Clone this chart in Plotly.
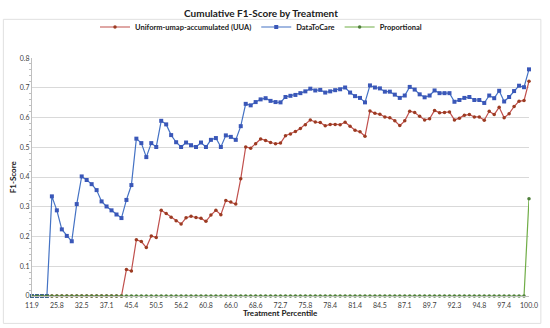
import plotly.graph_objects as go

tick_labels = ["11.9", "25.8", "32.5", "37.1", "45.4", "50.5", "56.2", "60.8", "66.0", "68.6",
               "72.7", "75.8", "78.4", "81.4", "84.5", "87.1", "89.7", "92.3", "94.8", "97.4", "100.0"]

uua = [0] * 19 + [
    0.089, 0.084, 0.189, 0.183, 0.163, 0.202, 0.197, 0.288, 0.277, 0.265, 0.253,
    0.242, 0.263, 0.268, 0.264, 0.261, 0.251, 0.272, 0.288, 0.273, 0.321,
    0.316, 0.309, 0.394, 0.501, 0.497, 0.512, 0.528, 0.523, 0.516, 0.512,
    0.514, 0.539, 0.545, 0.553, 0.563, 0.576, 0.592, 0.585, 0.583, 0.572,
    0.577, 0.577, 0.576, 0.584, 0.571, 0.557, 0.552, 0.537, 0.622, 0.614,
    0.611, 0.602, 0.599, 0.589, 0.573, 0.589, 0.621, 0.617, 0.604, 0.592,
    0.596, 0.624, 0.616, 0.617, 0.619, 0.592, 0.598, 0.608, 0.610, 0.602,
    0.602, 0.591, 0.621, 0.610, 0.635, 0.599, 0.613, 0.637, 0.655, 0.657,
    0.722]

datatocare = [0, 0, 0, 0,
    0.335, 0.288, 0.224, 0.202, 0.184, 0.309,
    0.402, 0.390, 0.376, 0.356, 0.318, 0.301, 0.288, 0.274, 0.262, 0.323,
    0.373, 0.529, 0.514, 0.467, 0.514, 0.501, 0.589, 0.577, 0.541, 0.517,
    0.501, 0.516, 0.507, 0.501, 0.516, 0.501, 0.525, 0.531, 0.501, 0.540,
    0.535, 0.525, 0.571, 0.646, 0.641, 0.652, 0.661, 0.665, 0.656, 0.652,
    0.651, 0.669, 0.673, 0.676, 0.682, 0.688, 0.697, 0.691, 0.693, 0.684,
    0.688, 0.692, 0.695, 0.701, 0.684, 0.672, 0.666, 0.651, 0.708, 0.701,
    0.698, 0.687, 0.687, 0.677, 0.666, 0.674, 0.703, 0.694, 0.678, 0.668,
    0.674, 0.691, 0.682, 0.682, 0.682, 0.653, 0.659, 0.666, 0.669, 0.659,
    0.659, 0.649, 0.674, 0.665, 0.690, 0.654, 0.669, 0.689, 0.707, 0.702,
    0.762]

proportional = [0] * 100 + [0.327]

x = list(range(len(uua)))
tick_pos = list(range(0, len(uua), 5))

FONT = "Lato"

fig = go.Figure()
fig.add_trace(go.Scatter(
    x=x, y=uua, name="<b>Uniform-umap-accumulated (UUA)</b>", mode="lines+markers",
    line=dict(color="#C0504D", width=1.2),
    marker=dict(color="#9C3B22", size=3.5, symbol="circle"),
    cliponaxis=False))
fig.add_trace(go.Scatter(
    x=x, y=datatocare, name="<b>DataToCare</b>", mode="lines+markers",
    line=dict(color="#4472C4", width=1.2),
    marker=dict(color="#3A57B8", size=4, symbol="square"),
    cliponaxis=False))
fig.add_trace(go.Scatter(
    x=x, y=proportional, name="<b>Proportional</b>", mode="lines+markers",
    line=dict(color="#70AD47", width=1.2),
    marker=dict(color="#4E7F3A", size=3.5, symbol="circle"),
    cliponaxis=False))

fig.update_layout(
    width=550, height=328,
    margin=dict(l=32, r=15, t=44, b=32),
    paper_bgcolor="white", plot_bgcolor="white",
    font=dict(family=FONT, color="#404040"),
    title=dict(text="<b>Cumulative F1-Score by Treatment</b>", x=261 / 550, xanchor="center",
               y=1 - 13 / 328, yanchor="middle", font=dict(size=10, color="#202020", family=FONT)),
    legend=dict(orientation="h", x=261 / 550, xanchor="center", xref="container",
                y=1 - 27 / 328, yanchor="middle", yref="container",
                font=dict(size=7.5, color="#202020", family=FONT), itemwidth=30,
                tracegroupgap=0, bgcolor="rgba(0,0,0,0)"),
    showlegend=True,
    xaxis=dict(range=[0, 100], tickmode="array", tickvals=tick_pos, ticktext=tick_labels,
               showgrid=False, zeroline=False, showline=True, linecolor="#BFBFBF", linewidth=1,
               tickfont=dict(size=7, color="#404040", family=FONT), ticks="", ticklabelstandoff=3),
    yaxis=dict(range=[0, 0.8], dtick=0.1, tick0=0, showgrid=True, gridcolor="#D9D9D9", gridwidth=1,
               zeroline=False, showline=True, linecolor="#BFBFBF", linewidth=1,
               tickfont=dict(size=7, color="#404040", family=FONT), ticks="",
               minor=dict(ticks="outside", ticklen=2, dtick=0.02, tickcolor="#BFBFBF")),
    annotations=[
        dict(text="<b>F1-Score</b>", xref="paper", yref="paper", x=-19 / 503, y=0.5,
             xanchor="center", yanchor="middle", textangle=-90, showarrow=False,
             font=dict(size=8, color="#202020", family=FONT)),
        dict(text="<b>Treatment Percentile</b>", xref="paper", yref="paper", x=0.5,
             y=-18 / 252, xanchor="center", yanchor="middle", showarrow=False,
             font=dict(size=8, color="#202020", family=FONT)),
    ],
    shapes=[dict(type="rect", xref="paper", yref="paper",
                 x0=-29 / 503, x1=1 + 12 / 503, y0=-29 / 252, y1=1 + 41 / 252,
                 line=dict(color="#E0E0E0", width=1), fillcolor="rgba(0,0,0,0)", layer="below")],
)

fig.write_html("out.html", config={"displayModeBar": False},
               post_script="document.body.style.margin='0';")
